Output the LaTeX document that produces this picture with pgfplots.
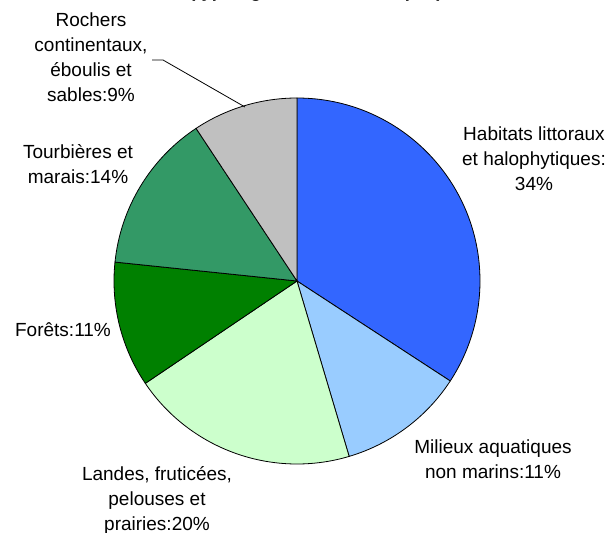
\documentclass[border=0pt]{standalone}
\usepackage{fontspec}
\setmainfont{Liberation Sans}
\usepackage{pgfplots}
\pgfplotsset{compat=1.18}
\definecolor{cA}{HTML}{3366FF}
\definecolor{cB}{HTML}{99CCFF}
\definecolor{cC}{HTML}{CCFFCC}
\definecolor{cD}{HTML}{008000}
\definecolor{cE}{HTML}{339966}
\definecolor{cF}{HTML}{C0C0C0}
\begin{document}
\begin{tikzpicture}[every node/.style={font=\fontsize{19bp}{25bp}\selectfont, inner sep=0pt}]
% slice values (percent), clockwise from top
\def\vA{34.2}  % Habitats littoraux et halophytiques
\def\vB{11.2}  % Milieux aquatiques non marins
\def\vC{20.15} % Landes, fruticees, pelouses et prairies
\def\vD{11.1}  % Forets
\def\vE{14.05} % Tourbieres et marais
\def\vF{9.3}   % Rochers continentaux, eboulis et sables
\pgfmathsetmacro\aA{90}
\pgfmathsetmacro\aB{\aA-3.6*\vA}
\pgfmathsetmacro\aC{\aB-3.6*\vB}
\pgfmathsetmacro\aD{\aC-3.6*\vC}
\pgfmathsetmacro\aE{\aD-3.6*\vD}
\pgfmathsetmacro\aF{\aE-3.6*\vE}
\pgfmathsetmacro\aG{\aF-3.6*\vF}
\begin{axis}[at={(0,0)}, anchor=origin, x=1bp, y=1bp,
  xmin=0, xmax=609, ymin=0, ymax=533, hide axis, clip=false]
\filldraw[fill=cA, draw=black, line width=0.8bp] (axis cs:297,252) -- ++(\aA:183bp) arc[start angle=\aA, end angle=\aB, radius=183bp] -- cycle;
\filldraw[fill=cB, draw=black, line width=0.8bp] (axis cs:297,252) -- ++(\aB:183bp) arc[start angle=\aB, end angle=\aC, radius=183bp] -- cycle;
\filldraw[fill=cC, draw=black, line width=0.8bp] (axis cs:297,252) -- ++(\aC:183bp) arc[start angle=\aC, end angle=\aD, radius=183bp] -- cycle;
\filldraw[fill=cD, draw=black, line width=0.8bp] (axis cs:297,252) -- ++(\aD:183bp) arc[start angle=\aD, end angle=\aE, radius=183bp] -- cycle;
\filldraw[fill=cE, draw=black, line width=0.8bp] (axis cs:297,252) -- ++(\aE:183bp) arc[start angle=\aE, end angle=\aF, radius=183bp] -- cycle;
\filldraw[fill=cF, draw=black, line width=0.8bp] (axis cs:297,252) -- ++(\aF:183bp) arc[start angle=\aF, end angle=\aG, radius=183bp] -- cycle;
% leader line
\draw[black, line width=0.8bp] (axis cs:152,473) -- (axis cs:163,473) -- (axis cs:245,426);
% title (cut by top edge, as in the reference)
\node[anchor=base, font=\fontsize{18.3bp}{22bp}\selectfont\bfseries] at (axis cs:316,535) {(typologie CORINE Biotopes)};
% labels
\node[anchor=base] at (axis cs:534,392) {Habitats littoraux};
\node[anchor=base] at (axis cs:534,368) {et halophytiques:};
\node[anchor=base] at (axis cs:534,343) {34\%};
\node[anchor=base] at (axis cs:493,80) {Milieux aquatiques};
\node[anchor=base] at (axis cs:493,55) {non marins:11\%};
\node[anchor=base] at (axis cs:157,53) {Landes, fruticées,};
\node[anchor=base] at (axis cs:157,28) {pelouses et};
\node[anchor=base] at (axis cs:157,3) {prairies:20\%};
\node[anchor=base] at (axis cs:63,197) {Forêts:11\%};
\node[anchor=base] at (axis cs:78,375) {Tourbières et};
\node[anchor=base] at (axis cs:78,350) {marais:14\%};
\node[anchor=base] at (axis cs:91,506) {Rochers};
\node[anchor=base] at (axis cs:91,481) {continentaux,};
\node[anchor=base] at (axis cs:91,456) {éboulis et};
\node[anchor=base] at (axis cs:91,431) {sables:9\%};
\end{axis}
\pgfresetboundingbox
\useasboundingbox (0,0) rectangle (609bp,533bp);
\end{tikzpicture}
\end{document}
